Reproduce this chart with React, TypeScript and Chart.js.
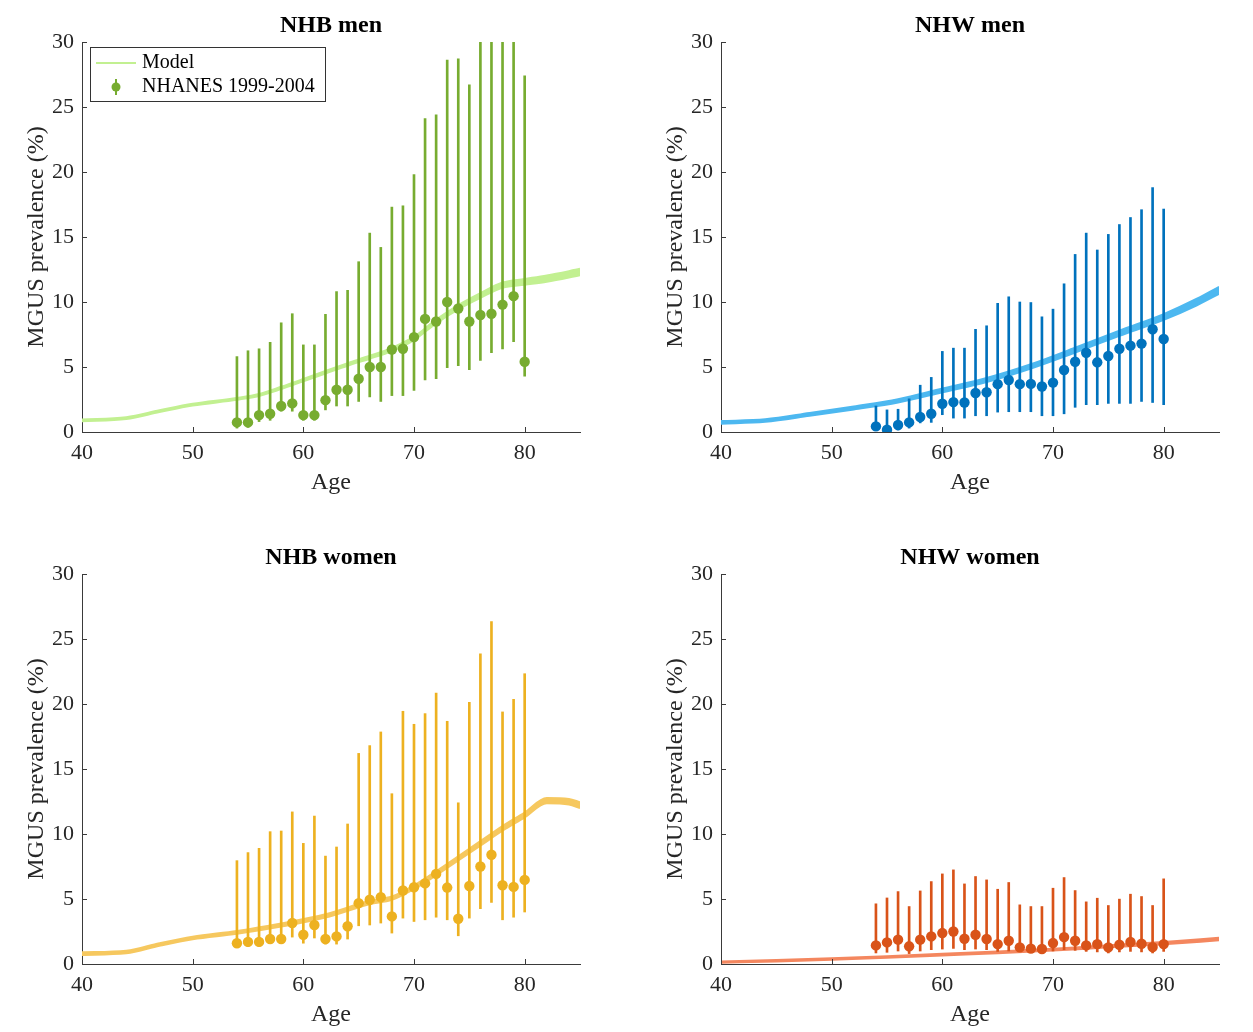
import React, { useEffect, useRef } from 'react';
import { Chart, registerables } from 'chart.js';

Chart.register(...registerables);

const FONT = "'Liberation Serif', 'Times New Roman', serif";

// ---------- data ----------
const surveyAges = [54, 55, 56, 57, 58, 59, 60, 61, 62, 63, 64, 65, 66, 67, 68, 69, 70, 71, 72, 73, 74, 75, 76, 77, 78, 79, 80];
const xTickAges = [40, 50, 60, 70, 80];
const yTickValues = [0, 5, 10, 15, 20, 25, 30];
const legendLabels = ['Model', 'NHANES 1999-2004'];
const panelTitles = ['NHB men', 'NHW men', 'NHB women', 'NHW women'];

// NHB men
const nhbMenPrev = [0.74, 0.74, 1.3, 1.4, 2.0, 2.2, 1.3, 1.3, 2.45, 3.25, 3.25, 4.1, 5.0, 5.0, 6.35, 6.4, 7.3, 8.7, 8.5, 10.0, 9.5, 8.5, 9.0, 9.1, 9.8, 10.45, 5.4];
const nhbMenLow = [0.3, 0.35, 0.8, 0.9, 1.6, 1.6, 0.9, 0.9, 1.7, 2.0, 2.0, 2.35, 2.7, 2.35, 2.8, 2.8, 3.2, 4.0, 4.1, 4.95, 5.1, 4.8, 5.5, 6.1, 6.4, 6.95, 4.3];
const nhbMenHigh = [5.8, 6.25, 6.4, 6.9, 8.4, 9.1, 6.7, 6.7, 9.05, 10.8, 10.9, 13.1, 15.3, 14.2, 17.3, 17.4, 19.8, 24.1, 24.4, 28.6, 28.7, 26.7, 32, 33, 34, 35, 27.4];
const nhbMenModelAges = [40, 44, 47, 50, 54, 56, 58, 60, 62, 64, 66, 68, 70, 72, 74, 76, 78, 80, 82, 85];
const nhbMenModelLow = [0.83, 1.0, 1.53, 2.03, 2.48, 2.77, 3.3, 3.9, 4.5, 5.1, 5.64, 6.23, 7.07, 8.36, 9.44, 10.32, 11.1, 11.33, 11.56, 12.05];
const nhbMenModelHigh = [0.97, 1.14, 1.67, 2.17, 2.62, 2.93, 3.48, 4.08, 4.7, 5.3, 5.86, 6.47, 7.33, 8.64, 9.76, 10.68, 11.5, 11.77, 12.04, 12.55];

// NHW men
const nhwMenPrev = [0.43, 0.18, 0.54, 0.74, 1.15, 1.4, 2.17, 2.3, 2.27, 3.0, 3.06, 3.68, 4.0, 3.68, 3.7, 3.5, 3.8, 4.77, 5.4, 6.1, 5.36, 5.85, 6.4, 6.64, 6.8, 7.9, 7.15];
const nhwMenLow = [0.1, 0.02, 0.15, 0.3, 0.7, 0.74, 1.33, 1.07, 1.07, 1.25, 1.25, 1.53, 1.56, 1.56, 1.56, 1.25, 1.25, 1.4, 1.9, 2.1, 2.1, 2.2, 2.2, 2.2, 2.35, 2.27, 2.1];
const nhwMenHigh = [2.0, 1.7, 1.75, 2.55, 3.6, 4.2, 6.2, 6.45, 6.45, 7.9, 8.17, 9.9, 10.4, 10.0, 9.96, 8.86, 9.45, 11.4, 13.66, 15.3, 14.0, 15.2, 15.96, 16.5, 17.1, 18.8, 17.15];
const nhwMenModelAges = [40, 44, 48, 52, 56, 60, 64, 68, 72, 76, 80, 83, 85];
const nhwMenModelLow = [0.64, 0.78, 1.24, 1.73, 2.27, 3.06, 3.85, 4.89, 6.12, 7.4, 8.63, 9.75, 10.63];
const nhwMenModelHigh = [0.84, 0.98, 1.46, 1.97, 2.53, 3.34, 4.15, 5.21, 6.48, 7.8, 9.07, 10.25, 11.17];

// NHB women
const nhbWomenPrev = [1.6, 1.7, 1.7, 1.92, 1.92, 3.15, 2.25, 3.0, 1.92, 2.12, 2.9, 4.68, 4.94, 5.14, 3.66, 5.65, 5.9, 6.2, 6.93, 5.88, 3.48, 6.0, 7.5, 8.4, 6.06, 5.93, 6.47];
const nhbWomenLow = [1.35, 1.35, 1.35, 1.6, 1.6, 2.07, 1.6, 2.0, 1.53, 1.53, 1.92, 2.94, 3.0, 3.15, 2.38, 3.53, 3.27, 3.4, 3.6, 3.4, 2.17, 3.53, 4.25, 4.73, 3.4, 3.6, 4.0];
const nhbWomenHigh = [7.95, 8.57, 8.9, 10.18, 10.23, 11.7, 9.28, 11.38, 8.3, 9.0, 10.77, 16.2, 16.8, 17.85, 13.1, 19.44, 18.44, 19.26, 20.84, 18.67, 12.4, 20.13, 23.86, 26.34, 19.39, 20.36, 22.33];
const nhbWomenModelAges = [40, 44, 47, 50, 54, 58, 62, 66, 68, 70, 72, 74, 76, 78, 80, 82, 84, 85];
const nhbWomenModelLow = [0.7, 0.82, 1.4, 1.9, 2.32, 2.88, 3.58, 4.6, 4.93, 5.76, 6.83, 7.97, 9.11, 10.25, 11.27, 12.36, 12.26, 12.0];
const nhbWomenModelHigh = [0.9, 1.02, 1.6, 2.1, 2.54, 3.12, 3.82, 4.86, 5.19, 6.04, 7.13, 8.29, 9.45, 10.61, 11.65, 12.76, 12.7, 12.44];

// NHW women
const nhwWomenPrev = [1.43, 1.66, 1.87, 1.36, 1.87, 2.12, 2.38, 2.5, 1.94, 2.25, 1.92, 1.53, 1.79, 1.28, 1.18, 1.15, 1.61, 2.07, 1.79, 1.43, 1.53, 1.28, 1.48, 1.69, 1.56, 1.3, 1.53];
const nhwWomenLow = [0.85, 0.9, 1.0, 0.8, 1.0, 1.1, 1.15, 1.2, 1.1, 1.15, 1.1, 0.97, 1.0, 0.97, 0.95, 0.93, 1.0, 1.1, 1.05, 0.97, 0.93, 0.85, 0.93, 0.97, 0.93, 0.85, 0.97];
const nhwWomenHigh = [4.63, 5.08, 5.57, 4.42, 5.62, 6.34, 6.93, 7.24, 6.16, 6.73, 6.47, 5.75, 6.27, 4.55, 4.42, 4.42, 5.83, 6.65, 5.65, 4.78, 5.06, 4.5, 4.99, 5.37, 5.19, 4.5, 6.55];
const nhwWomenModelAges = [40, 45, 50, 55, 60, 65, 70, 75, 80, 85];
const nhwWomenModelLow = [0.1, 0.2, 0.32, 0.48, 0.66, 0.83, 1.03, 1.28, 1.52, 1.82];
const nhwWomenModelHigh = [0.2, 0.3, 0.44, 0.6, 0.78, 0.97, 1.17, 1.44, 1.7, 2.02];

// ---------- panels ----------
type PanelDef = {
  title: string;
  prev: number[];
  low: number[];
  high: number[];
  modelAges: number[];
  modelLow: number[];
  modelHigh: number[];
  pointColor: string;
  modelColor: string;
  legend: boolean;
  left: number;
  top: number;
};

const panels: PanelDef[] = [
  { title: panelTitles[0], prev: nhbMenPrev, low: nhbMenLow, high: nhbMenHigh, modelAges: nhbMenModelAges, modelLow: nhbMenModelLow, modelHigh: nhbMenModelHigh, pointColor: '#77AC30', modelColor: '#C2F091', legend: true, left: 0, top: 0 },
  { title: panelTitles[1], prev: nhwMenPrev, low: nhwMenLow, high: nhwMenHigh, modelAges: nhwMenModelAges, modelLow: nhwMenModelLow, modelHigh: nhwMenModelHigh, pointColor: '#0072BD', modelColor: '#4DB8F0', legend: false, left: 639, top: 0 },
  { title: panelTitles[2], prev: nhbWomenPrev, low: nhbWomenLow, high: nhbWomenHigh, modelAges: nhbWomenModelAges, modelLow: nhbWomenModelLow, modelHigh: nhbWomenModelHigh, pointColor: '#EDB120', modelColor: '#F6C85F', legend: false, left: 0, top: 532 },
  { title: panelTitles[3], prev: nhwWomenPrev, low: nhwWomenLow, high: nhwWomenHigh, modelAges: nhwWomenModelAges, modelLow: nhwWomenModelLow, modelHigh: nhwWomenModelHigh, pointColor: '#D95319', modelColor: '#F4875F', legend: false, left: 639, top: 532 },
];

const CANVAS_W = 610;
const CANVAS_H = 500;
const AXIS_COLOR = '#3a3a3a';
const TEXT_COLOR = '#262626';

const inwardTicks = {
  id: 'inwardTicks',
  afterDatasetsDraw(chart: any) {
    const { ctx, chartArea, scales } = chart;
    ctx.save();
    ctx.strokeStyle = AXIS_COLOR;
    ctx.lineWidth = 1;
    ctx.beginPath();
    scales.x.ticks.forEach((t: any) => {
      const px = Math.round(scales.x.getPixelForValue(t.value)) + 0.5;
      ctx.moveTo(px, chartArea.bottom);
      ctx.lineTo(px, chartArea.bottom - 5);
    });
    scales.y.ticks.forEach((t: any) => {
      const py = Math.round(scales.y.getPixelForValue(t.value)) + 0.5;
      ctx.moveTo(chartArea.left, py);
      ctx.lineTo(chartArea.left + 5, py);
    });
    ctx.stroke();
    ctx.restore();
  },
};

function Panel({ def }: { def: PanelDef }) {
  const ref = useRef<HTMLCanvasElement | null>(null);

  useEffect(() => {
    if (!ref.current) return;

    const titlePlugin = {
      id: 'panelTitle',
      afterDraw(chart: any) {
        const { ctx, chartArea } = chart;
        ctx.save();
        ctx.fillStyle = '#000000';
        ctx.font = `bold 24px ${FONT}`;
        ctx.textAlign = 'center';
        ctx.textBaseline = 'middle';
        ctx.fillText(def.title, (chartArea.left + chartArea.right) / 2, 26);
        ctx.restore();
      },
    };

    const legendPlugin = {
      id: 'insetLegend',
      afterDraw(chart: any) {
        if (!def.legend) return;
        const { ctx, chartArea } = chart;
        const x0 = chartArea.left + 8;
        const y0 = chartArea.top + 5;
        const w = 235;
        const h = 54;
        ctx.save();
        ctx.fillStyle = '#ffffff';
        ctx.fillRect(x0, y0, w, h);
        ctx.strokeStyle = '#333333';
        ctx.lineWidth = 1;
        ctx.strokeRect(x0 + 0.5, y0 + 0.5, w, h);
        ctx.strokeStyle = def.modelColor;
        ctx.lineWidth = 2;
        ctx.beginPath();
        ctx.moveTo(x0 + 6, y0 + 16);
        ctx.lineTo(x0 + 46, y0 + 16);
        ctx.stroke();
        ctx.strokeStyle = def.pointColor;
        ctx.lineWidth = 2;
        ctx.beginPath();
        ctx.moveTo(x0 + 26, y0 + 32);
        ctx.lineTo(x0 + 26, y0 + 48);
        ctx.stroke();
        ctx.fillStyle = def.pointColor;
        ctx.beginPath();
        ctx.arc(x0 + 26, y0 + 40, 4.5, 0, Math.PI * 2);
        ctx.fill();
        ctx.fillStyle = '#000000';
        ctx.font = `20px ${FONT}`;
        ctx.textBaseline = 'middle';
        ctx.textAlign = 'left';
        ctx.fillText(legendLabels[0], x0 + 52, y0 + 16);
        ctx.fillText(legendLabels[1], x0 + 52, y0 + 40);
        ctx.restore();
      },
    };

    const points = surveyAges.map((a, i) => ({ x: a, y: def.prev[i] }));
    const bars = surveyAges.map((a, i) => ({ x: a, y: [def.low[i], def.high[i]] }));
    const mLow = def.modelAges.map((a, i) => ({ x: a, y: def.modelLow[i] }));
    const mHigh = def.modelAges.map((a, i) => ({ x: a, y: def.modelHigh[i] }));

    const chart = new Chart(ref.current, {
      type: 'scatter',
      data: {
        datasets: [
          {
            type: 'scatter',
            label: legendLabels[1],
            data: points,
            pointRadius: 5.2,
            pointHoverRadius: 5.2,
            backgroundColor: def.pointColor,
            borderWidth: 0,
          } as any,
          {
            type: 'bar',
            label: 'CI',
            data: bars,
            barThickness: 2,
            backgroundColor: def.pointColor,
            borderWidth: 0,
          } as any,
          {
            type: 'line',
            label: 'model-low',
            data: mLow,
            borderColor: def.modelColor,
            borderWidth: 2,
            pointRadius: 0,
            cubicInterpolationMode: 'monotone',
            fill: false,
          } as any,
          {
            type: 'line',
            label: legendLabels[0],
            data: mHigh,
            borderColor: def.modelColor,
            backgroundColor: def.modelColor,
            borderWidth: 2,
            pointRadius: 0,
            cubicInterpolationMode: 'monotone',
            fill: '-1',
          } as any,
        ],
      },
      options: {
        animation: false,
        responsive: false,
        events: [],
        layout: { padding: { left: 0, right: 30, top: 42, bottom: 0 } },
        plugins: {
          legend: { display: false },
          tooltip: { enabled: false },
          title: { display: false },
        },
        scales: {
          x: {
            type: 'linear',
            min: 40,
            max: 85,
            offset: false,
            grid: { display: false, drawTicks: false },
            border: { display: true, color: AXIS_COLOR, width: 1 },
            afterBuildTicks: (scale: any) => {
              scale.ticks = xTickAges.map((v) => ({ value: v }));
            },
            ticks: {
              color: TEXT_COLOR,
              font: { family: FONT, size: 22, lineHeight: 1.2 },
              padding: 8,
              maxRotation: 0,
            },
            title: {
              display: true,
              text: 'Age',
              color: TEXT_COLOR,
              font: { family: FONT, size: 24, lineHeight: 1.2 },
              padding: { top: 0, bottom: 3 },
            },
            afterFit: (scale: any) => {
              scale.height = 68;
            },
          },
          y: {
            type: 'linear',
            min: 0,
            max: 30,
            grid: { display: false, drawTicks: false },
            border: { display: true, color: AXIS_COLOR, width: 1 },
            afterBuildTicks: (scale: any) => {
              scale.ticks = yTickValues.map((v) => ({ value: v }));
            },
            ticks: {
              color: TEXT_COLOR,
              font: { family: FONT, size: 22, lineHeight: 1.2 },
              padding: 8,
            },
            title: {
              display: true,
              text: 'MGUS prevalence (%)',
              color: TEXT_COLOR,
              font: { family: FONT, size: 24, lineHeight: 1.2 },
              padding: { top: 22, bottom: 0 },
            },
            afterFit: (scale: any) => {
              scale.width = 82;
            },
          },
        },
      } as any,
      plugins: [inwardTicks, legendPlugin, titlePlugin] as any,
    });

    return () => {
      chart.destroy();
    };
  }, [def]);

  return (
    <canvas
      ref={ref}
      width={CANVAS_W}
      height={CANVAS_H}
      style={{ position: 'absolute', left: def.left, top: def.top, width: CANVAS_W, height: CANVAS_H }}
    />
  );
}

export default function App() {
  return (
    <div style={{ position: 'absolute', left: 0, top: 0, width: 1253, height: 1032, background: '#ffffff', overflow: 'hidden' }}>
      {panels.map((p) => (
        <Panel key={p.title} def={p} />
      ))}
    </div>
  );
}
